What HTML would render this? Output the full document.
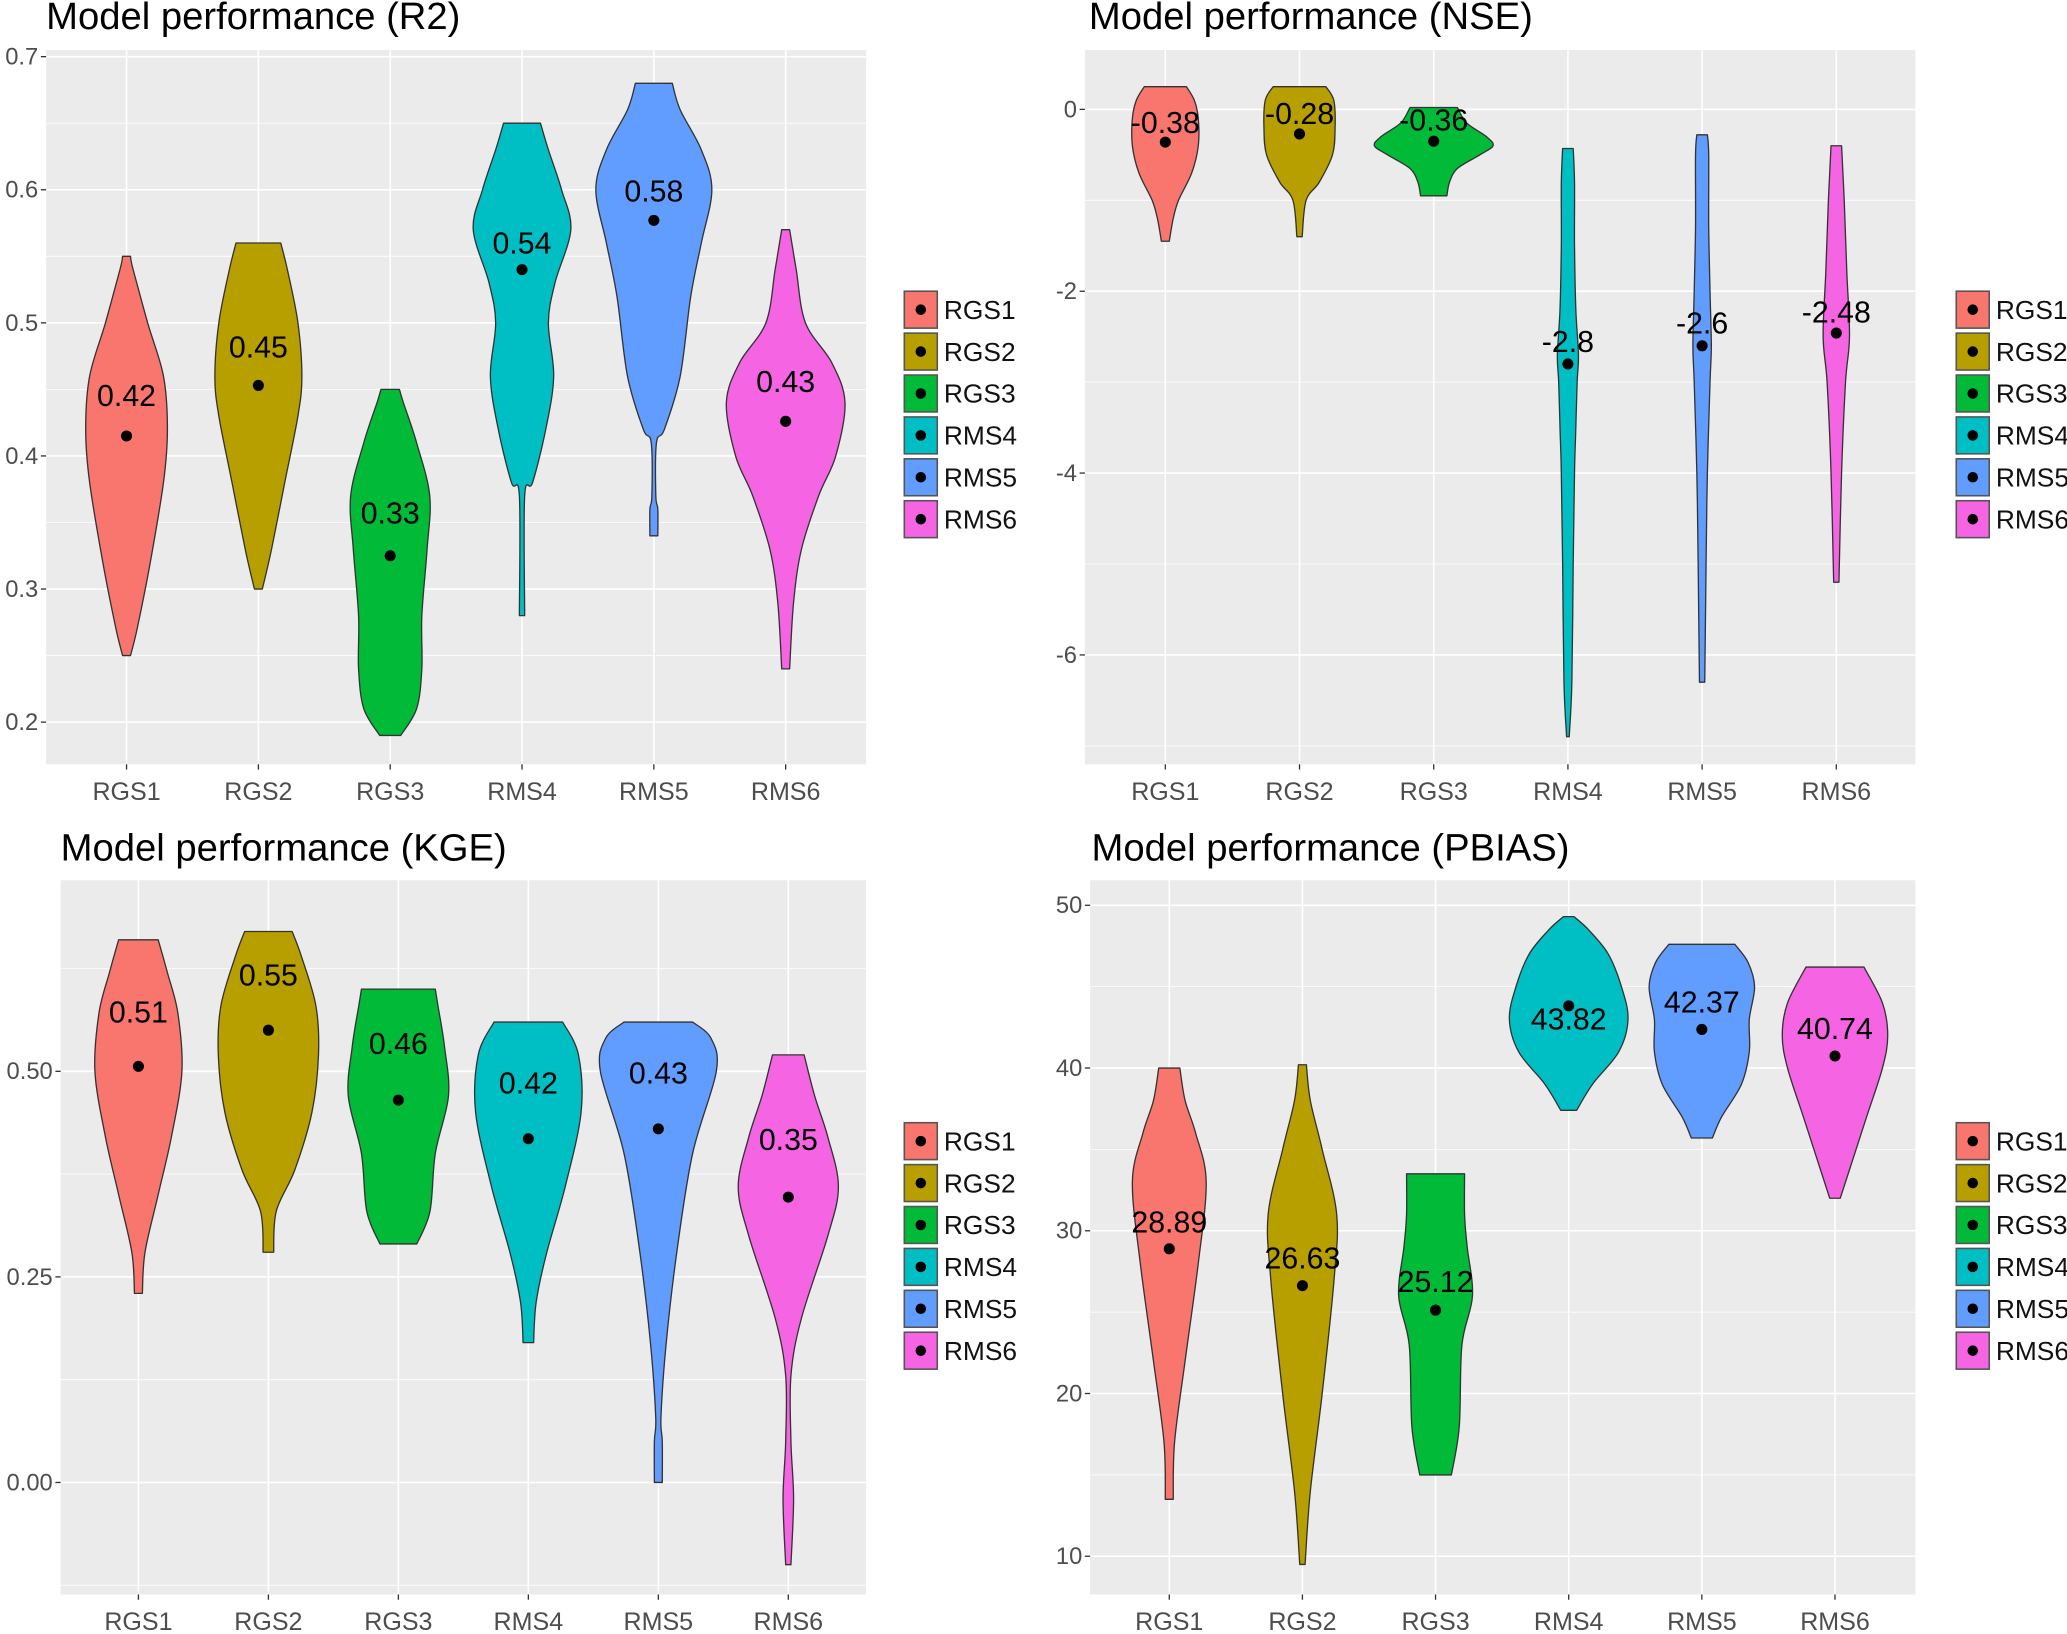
<!DOCTYPE html>
<html><head><meta charset="utf-8">
<style>
html,body{margin:0;padding:0;background:#fff;}
svg{display:block;font-family:"Liberation Sans",Arial,sans-serif;}
</style></head>
<body>
<svg id="fig" width="2067" height="1634" viewBox="0 0 1568 1240" preserveAspectRatio="none" xmlns="http://www.w3.org/2000/svg"></svg>
<script>
const groups = ["RGS1","RGS2","RGS3","RMS4","RMS5","RMS6"];
const colors = ["#F8766D","#B79F00","#00BA38","#00BFC4","#619CFF","#F564E3"];

const r2Shapes = [
 [[0.25,3],[0.27,8],[0.32,18],[0.38,28],[0.42,31],[0.46,28],[0.50,16],[0.54,5],[0.55,3]],
 [[0.30,3],[0.33,10],[0.38,20],[0.43,30],[0.46,33],[0.50,30],[0.54,22],[0.56,17]],
 [[0.19,8],[0.21,20],[0.24,24],[0.28,24],[0.33,28],[0.37,30],[0.41,20],[0.44,10],[0.45,7]],
 [[0.28,2],[0.37,2],[0.38,8],[0.42,18],[0.46,24],[0.50,20],[0.53,25],[0.57,37],[0.60,30],[0.63,20],[0.65,14]],
 [[0.34,3],[0.36,3],[0.37,1.5],[0.41,2],[0.42,8],[0.46,20],[0.52,28],[0.56,36],[0.60,44],[0.63,36],[0.66,20],[0.68,14]],
 [[0.24,3],[0.29,6],[0.33,12],[0.37,25],[0.40,38],[0.44,45],[0.47,35],[0.50,15],[0.54,8],[0.57,3]]
];
const r2Means = [0.415,0.453,0.325,0.540,0.577,0.426];
const r2Labels = ["0.42","0.45","0.33","0.54","0.58","0.43"];
const r2LabelPos = [0.4455,0.482,0.357,0.560,0.599,0.456];
const r2Ticks = [0.2,0.3,0.4,0.5,0.6,0.7];
const r2TickLabels = ["0.2","0.3","0.4","0.5","0.6","0.7"];

const nseShapes = [
 [[-1.45,3],[-1.2,6],[-1.0,10],[-0.7,20],[-0.4,25],[-0.1,25],[0.1,22],[0.25,16]],
 [[-1.4,2],[-1.0,5],[-0.8,15],[-0.5,25],[-0.2,27],[0.1,26],[0.25,20]],
 [[-0.95,10],[-0.8,12],[-0.65,18],[-0.5,35],[-0.4,45],[-0.3,40],[-0.15,25],[0.02,18]],
 [[-6.9,1],[-6.3,3],[-5,4],[-4,5],[-3.5,6],[-3,7],[-2.7,8],[-2.2,6],[-1.5,5],[-0.8,5],[-0.43,4]],
 [[-6.3,2],[-5,3],[-4,4],[-3,6],[-2.6,7],[-2,6],[-1.3,5],[-0.5,5],[-0.28,4]],
 [[-5.2,2],[-4,4],[-3,7],[-2.5,10],[-1.8,8],[-1,6],[-0.4,4]]
];
const nseMeans = [-0.36,-0.27,-0.35,-2.8,-2.6,-2.46];
const nseLabels = ["-0.38","-0.28","-0.36","-2.8","-2.6","-2.48"];
const nseLabelPos = [-0.145,-0.043,-0.116,-2.55,-2.35,-2.23];
const nseTicks = [-6,-4,-2,0];
const nseTickLabels = ["-6","-4","-2","0"];

const kgeShapes = [
 [[0.23,3],[0.28,5],[0.35,15],[0.42,25],[0.50,33],[0.57,30],[0.62,22],[0.66,15]],
 [[0.28,4],[0.33,6],[0.38,20],[0.45,33],[0.52,38],[0.58,36],[0.64,25],[0.67,18]],
 [[0.29,14],[0.33,24],[0.40,28],[0.47,38],[0.53,35],[0.58,30],[0.60,28]],
 [[0.17,4],[0.22,6],[0.28,14],[0.36,28],[0.45,40],[0.52,38],[0.56,26]],
 [[0,3],[0.05,3],[0.08,2],[0.17,6],[0.28,14],[0.40,26],[0.50,44],[0.54,40],[0.56,26]],
 [[-0.1,2],[-0.02,4],[0.05,2],[0.13,2],[0.20,10],[0.30,30],[0.36,38],[0.42,30],[0.47,20],[0.52,12]]
];
const kgeMeans = [0.506,0.55,0.465,0.418,0.43,0.347];
const kgeLabels = ["0.51","0.55","0.46","0.42","0.43","0.35"];
const kgeLabelPos = [0.572,0.617,0.534,0.486,0.498,0.417];
const kgeTicks = [0,0.25,0.5];
const kgeTickLabels = ["0.00","0.25","0.50"];

const pbShapes = [
 [[13.5,3],[17,4],[22,12],[28,22],[33,28],[36,20],[38,12],[40,8]],
 [[9.5,2],[14,6],[20,15],[27,24],[31,26],[35,15],[38,6],[40.2,3]],
 [[15,12],[18,18],[23,20],[26,28],[29,24],[31,22],[33.5,22]],
 [[37.4,6],[39,18],[41,38],[43,45],[45,40],[47,30],[48.5,15],[49.3,4]],
 [[35.7,8],[37,15],[39,30],[41,36],[43,36],[45,40],[46.5,35],[47.6,25]],
 [[32,4],[34,12],[37,24],[40,36],[42,40],[44,36],[46.2,22]]
];
const pbMeans = [28.89,26.63,25.12,43.82,42.37,40.74];
const pbLabels = ["28.89","26.63","25.12","43.82","42.37","40.74"];
const pbLabelPos = [30.53,28.34,26.88,43.0,44.05,42.43];
const pbTicks = [10,20,30,40,50];
const pbTickLabels = ["10","20","30","40","50"];

const NS="http://www.w3.org/2000/svg";
const svg=document.getElementById('fig');
function el(tag,attrs,parent){const e=document.createElementNS(NS,tag);for(const k in attrs)e.setAttribute(k,attrs[k]);(parent||svg).appendChild(e);return e;}

// Catmull-Rom smoothing of a point list -> cubic bezier segments
function smooth(pts){
 let d='';
 for(let i=0;i<pts.length-1;i++){
  const p0=pts[Math.max(0,i-1)],p1=pts[i],p2=pts[i+1],p3=pts[Math.min(pts.length-1,i+2)];
  const c1=[p1[0]+(p2[0]-p0[0])/6,p1[1]+(p2[1]-p0[1])/6];
  const c2=[p2[0]-(p3[0]-p1[0])/6,p2[1]-(p3[1]-p1[1])/6];
  d+=' C'+c1[0].toFixed(1)+','+c1[1].toFixed(1)+' '+c2[0].toFixed(1)+','+c2[1].toFixed(1)+' '+p2[0].toFixed(1)+','+p2[1].toFixed(1);
 }
 return d;
}

function panel(cfg){
 const g=el('g',{});
 
 
 const y=v=>cfg.p1+(v-cfg.v1)*(cfg.p2-cfg.p1)/(cfg.v2-cfg.v1);
 const x=i=>cfg.x0+i*cfg.dx;
 const bg=el('rect',{x:cfg.L,y:cfg.T,width:cfg.R-cfg.L,height:cfg.B-cfg.T,fill:'#EBEBEB'},g);
 
 
 const tk=cfg.ticks, step=tk[1]-tk[0];
 for(let i=-1;i<tk.length;i++){
   const mv=tk[0]+step*(i+0.5); const py=y(mv);
   if(py>cfg.T&&py<cfg.B){const l=el('line',{x1:cfg.L,x2:cfg.R,y1:py,y2:py,stroke:'#fff','stroke-width':0.6},g);
   }
 }
 tk.forEach((v,i)=>{const py=y(v);
   const l=el('line',{x1:cfg.L,x2:cfg.R,y1:py,y2:py,stroke:'#fff','stroke-width':1.2},g);
   
   el('line',{x1:cfg.L-4,x2:cfg.L,y1:py,y2:py,stroke:'#333','stroke-width':1},g);
   const t=el('text',{x:cfg.L-6,y:py+6,'text-anchor':'end','font-size':18,fill:'#4D4D4D'},g);
   t.textContent=cfg.tickLabels[i];
   
 });
 groups.forEach((gname,i)=>{const px=x(i);
   const l=el('line',{x1:px,x2:px,y1:cfg.T,y2:cfg.B,stroke:'#fff','stroke-width':1.2},g);
   
   el('line',{x1:px,x2:px,y1:cfg.B,y2:cfg.B+4,stroke:'#333','stroke-width':1},g);
   const t=el('text',{x:px,y:cfg.B+27,'text-anchor':'middle','font-size':19,fill:'#4D4D4D'},g);
   t.textContent=gname;
   
 });
 cfg.shapes.forEach((sh,i)=>{const px=x(i);
   const right=sh.map(p=>[px+p[1],y(p[0])]);
   const left=sh.slice().reverse().map(p=>[px-p[1],y(p[0])]);
   const b=[px,y(sh[0][0])], tp=[px,y(sh[sh.length-1][0])];
   let d='M'+b[0].toFixed(1)+','+b[1].toFixed(1)+' L'+right[0][0].toFixed(1)+','+right[0][1].toFixed(1);
   d+=smooth(right);
   d+=' L'+tp[0].toFixed(1)+','+tp[1].toFixed(1)+' L'+left[0][0].toFixed(1)+','+left[0][1].toFixed(1);
   d+=smooth(left)+' Z';
   const path=el('path',{d:d,fill:colors[i],stroke:'#333','stroke-width':1,'stroke-linejoin':'round'},g);
   
   
   const c=el('circle',{cx:px,cy:y(cfg.means[i]),r:4.2,fill:'#000'},g);
   
   
   const t=el('text',{x:px,y:y(cfg.labelPos[i])+8,'text-anchor':'middle','font-size':23,fill:'#000'},g);
   t.textContent=cfg.labels[i];
   
 });
 const ti=el('text',{x:cfg.titleX,y:cfg.titleY,'font-size':29,fill:'#000'},g);
 ti.textContent=cfg.title;
 
 groups.forEach((gname,i)=>{const ly=cfg.legY+i*31.8;
   const lg=el('g',{},g);
   
   
   el('rect',{x:cfg.legX,y:ly-14,width:25,height:28,fill:colors[i],stroke:'#555','stroke-width':1.2},lg);
   el('circle',{cx:cfg.legX+12.5,cy:ly,r:4,fill:'#000'},lg);
   const t=el('text',{x:cfg.legX+30,y:ly+7,'font-size':20,fill:'#111'},lg);
   t.textContent=gname;
 });
}

panel({name:'r2',title:'Model performance (R2)',titleX:35,titleY:22,L:35,R:657,T:38,B:580,v1:0.7,p1:43,v2:0.2,p2:548,x0:96,dx:100,
 shapes:r2Shapes,means:r2Means,labels:r2Labels,labelPos:r2LabelPos,ticks:r2Ticks,tickLabels:r2TickLabels,legX:686,legY:235});
panel({name:'nse',title:'Model performance (NSE)',titleX:826,titleY:22,L:823,R:1453,T:38,B:580,v1:0,p1:83,v2:-6,p2:497,x0:884,dx:101.8,
 shapes:nseShapes,means:nseMeans,labels:nseLabels,labelPos:nseLabelPos,ticks:nseTicks,tickLabels:nseTickLabels,legX:1484,legY:235});
panel({name:'kge',title:'Model performance (KGE)',titleX:46,titleY:653,L:46,R:657,T:668,B:1210,v1:0.5,p1:813,v2:0,p2:1125,x0:105,dx:98.6,
 shapes:kgeShapes,means:kgeMeans,labels:kgeLabels,labelPos:kgeLabelPos,ticks:kgeTicks,tickLabels:kgeTickLabels,legX:686,legY:866});
panel({name:'pbias',title:'Model performance (PBIAS)',titleX:828,titleY:653,L:827,R:1453,T:668,B:1210,v1:50,p1:687,v2:10,p2:1181,x0:887,dx:101,
 shapes:pbShapes,means:pbMeans,labels:pbLabels,labelPos:pbLabelPos,ticks:pbTicks,tickLabels:pbTickLabels,legX:1484,legY:866});
</script>
</body></html>
